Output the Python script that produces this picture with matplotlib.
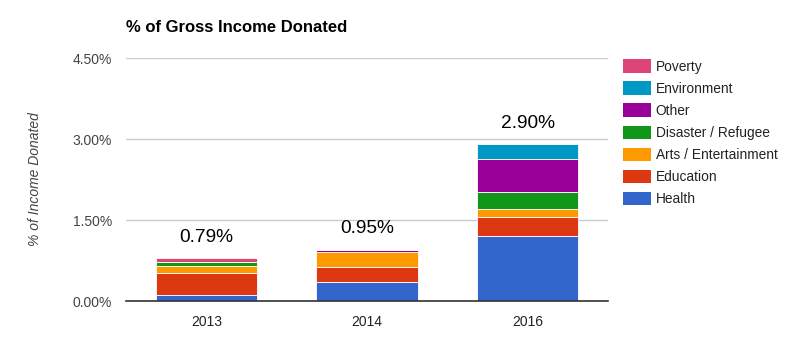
import matplotlib
matplotlib.use('Agg')
import matplotlib.pyplot as plt
from matplotlib.patches import Patch
import numpy as np

plt.rcParams['font.family'] = ['Liberation Sans', 'DejaVu Sans']

years = ['2013', '2014', '2016']
categories = ['Health', 'Education', 'Arts / Entertainment', 'Disaster / Refugee',
              'Other', 'Environment', 'Poverty']
colors = ['#3366cc', '#dc3912', '#ff9900', '#109618', '#990099', '#0099c6', '#dd4477']

# % of gross income per category, one list per category (2013, 2014, 2016)
health = [0.12, 0.35, 1.20]
education = [0.40, 0.28, 0.36]
arts = [0.13, 0.28, 0.15]
disaster = [0.08, 0.00, 0.31]
other = [0.00, 0.04, 0.61]
environment = [0.00, 0.00, 0.27]
poverty = [0.06, 0.00, 0.00]
totals = [0.79, 0.95, 2.90]

series = [health, education, arts, disaster, other, environment, poverty]

fig = plt.figure(figsize=(8, 3.45), dpi=100)
ax = fig.add_axes([0.1575, 0.1275, 0.6025, 0.7043])

x = np.arange(len(years))
bottom = np.zeros(len(years))
for vals, col in zip(series, colors):
    vals = np.array(vals)
    ax.bar(x, vals, 0.63, bottom=bottom, color=col, edgecolor='white',
           linewidth=0.6, zorder=3)
    bottom += vals

for xi, t in zip(x, totals):
    ax.annotate(f'{t:.2f}%', (xi, t), xytext=(0, 9), textcoords='offset points',
                ha='center', va='bottom', fontsize=13.8, color='#000000')

ax.set_xlim(-0.5, 2.5)
ax.set_ylim(0, 4.5)
ticks = [0, 1.5, 3.0, 4.5]
ax.set_yticks(ticks)
ax.set_yticklabels([f'{t:.2f}%' for t in ticks], color='#444444', fontsize=10)
ax.set_xticks(x)
ax.set_xticklabels(years, color='#222222', fontsize=10)
ax.tick_params(length=0, pad=10, axis='y')
ax.tick_params(length=0, pad=10, axis='x')
ax.grid(axis='y', color='#cccccc', linewidth=1, zorder=0)
for s in ['top', 'right', 'left']:
    ax.spines[s].set_visible(False)
ax.spines['bottom'].set_color('#333333')
ax.spines['bottom'].set_linewidth(1.2)
ax.spines['bottom'].set_zorder(4)

ax.set_ylabel('% of Income Donated', style='italic', color='#444444',
              fontsize=10, labelpad=22)

fig.text(126 / 800, 1 - 28 / 345, '% of Gross Income Donated', fontsize=12,
         fontweight='bold', color='#000000', va='center', ha='left')

handles = [Patch(facecolor=c, edgecolor='none') for c in colors[::-1]]
leg = fig.legend(handles, categories[::-1], loc='upper left',
                 bbox_to_anchor=(611 / 800, 1 - 47 / 345), frameon=False,
                 fontsize=9.9, handlelength=2.0, handleheight=1.15,
                 labelspacing=0.55, handletextpad=0.36)
for t in leg.get_texts():
    t.set_color('#222222')

fig.savefig('out.png', dpi=100)
